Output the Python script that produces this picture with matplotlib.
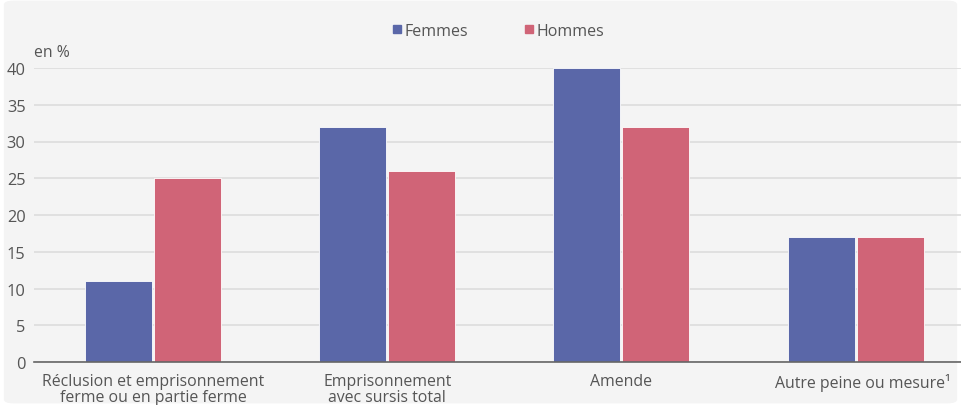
import matplotlib.pyplot as plt
import matplotlib.transforms as mtransforms
import numpy as np
from matplotlib.patches import FancyBboxPatch
from matplotlib.lines import Line2D

# Données
categories = ['Réclusion et emprisonnement\nferme ou en partie ferme',
              'Emprisonnement\navec sursis total',
              'Amende',
              'Autre peine ou mesure¹']
femmes = [11, 32, 40, 17]
hommes = [25, 26, 32, 17]
yticks = [0, 5, 10, 15, 20, 25, 30, 35, 40]

col_f = '#5A67A8'
col_h = '#D06477'
txt = '#555555'

plt.rcParams['font.family'] = ['Open Sans', 'DejaVu Sans']

fig = plt.figure(figsize=(9.61, 4.06), dpi=100)
fig.patch.set_facecolor('white')
bg = FancyBboxPatch((0.004, 0.004), 0.992, 0.992, boxstyle='round,pad=0,rounding_size=0.01',
                    transform=fig.transFigure, facecolor='#F4F4F4', edgecolor='none', zorder=-10)
fig.patches.append(bg)

ax = fig.add_axes([34/961, 43/406, 927/961, 294/406])
ax.set_facecolor('none')
ax.set_zorder(2)

x = np.arange(len(categories))
w = 0.286
off = 0.147
ax.bar(x - off, femmes, w, color=col_f, edgecolor='white', linewidth=0.6, zorder=3)
ax.bar(x + off, hommes, w, color=col_h, edgecolor='white', linewidth=0.6, zorder=3)

ax.set_xlim(-0.508, 3.45)
ax.set_ylim(0, 40)
ax.set_yticks(yticks)
ax.set_xticks(x)
ax.set_xticklabels(categories)
ax.tick_params(axis='y', length=0, pad=6, labelsize=11.8, labelcolor=txt)
ax.tick_params(axis='x', length=0, pad=8, labelsize=11.4, labelcolor=txt)
for lab in ax.get_xticklabels():
    lab.set_linespacing(0.95)
# décalage du dernier libellé vers la droite
shift = mtransforms.ScaledTranslation(7/100, 0, fig.dpi_scale_trans)
last = ax.get_xticklabels()[3]
last.set_transform(last.get_transform() + shift)

ax.yaxis.grid(True, color='#DCDCDC', linewidth=1.2, zorder=0)
for s in ['top', 'right', 'left']:
    ax.spines[s].set_visible(False)
ax.spines['bottom'].set_color('#666666')
ax.spines['bottom'].set_linewidth(1.2)
ax.spines['bottom'].set_zorder(4)

fig.text(34/961, 1 - 53/406, 'en %', fontsize=11.3, color=txt, ha='left', va='center')

handles = [Line2D([], [], marker='s', linestyle='none', markersize=6, color=col_f),
           Line2D([], [], marker='s', linestyle='none', markersize=6, color=col_h)]
fig.legend(handles=handles, labels=['Femmes', 'Hommes'], loc='center',
           bbox_to_anchor=(499/961, 1 - 32/406), ncol=2, frameon=False, fontsize=11.5,
           handlelength=0.45, handletextpad=0.25, columnspacing=3.6, labelcolor=txt)

plt.savefig('out.png', dpi=100, facecolor=fig.get_facecolor())
